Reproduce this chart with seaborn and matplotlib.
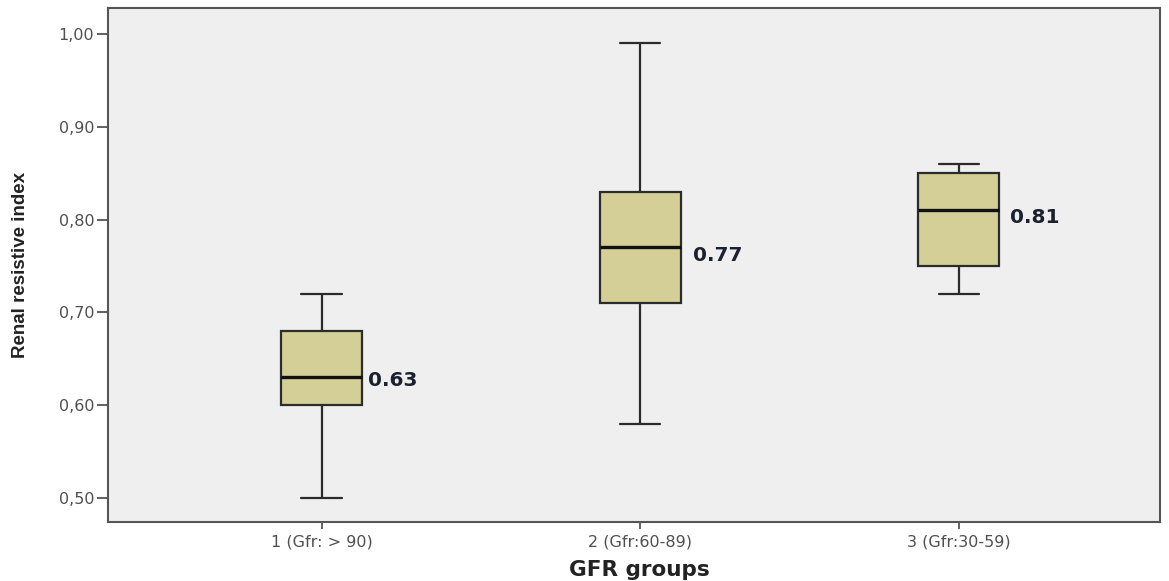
import numpy as np
import pandas as pd
import matplotlib
matplotlib.use("Agg")
import matplotlib.pyplot as plt
import seaborn as sns
from matplotlib.ticker import FuncFormatter

# Groups and box statistics (min, Q1, median, Q3, max)
groups = ["1 (Gfr: > 90)", "2 (Gfr:60-89)", "3 (Gfr:30-59)"]
g1_values = [0.50, 0.60, 0.63, 0.68, 0.72]
g2_values = [0.58, 0.71, 0.77, 0.83, 0.99]
g3_values = [0.72, 0.75, 0.81, 0.85, 0.86]
medians = [0.63, 0.77, 0.81]
median_labels = ["0.63", "0.77", "0.81"]
y_ticks = [0.50, 0.60, 0.70, 0.80, 0.90, 1.00]

df = pd.DataFrame({
    "group": np.repeat(groups, 5),
    "rri": g1_values + g2_values + g3_values,
})

sns.set_style("white")
plt.rcParams["font.family"] = ["DejaVu Sans"]

fig = plt.figure(figsize=(11.69, 5.81), dpi=100)
ax = fig.add_axes([0.0924, 0.1015, 0.8996, 0.8845])
ax.set_facecolor("#efefef")

sns.boxplot(data=df, x="group", y="rri", order=groups, ax=ax,
            whis=(0, 100), width=0.254, color="#d4cf97", saturation=1,
            linecolor="#2b2b2b", linewidth=1.6,
            medianprops=dict(color="#111111", linewidth=2.4),
            showfliers=False)

# median value labels, nudged as in the original (pixel offsets)
label_dx = [6, 12, 11]
label_dy = [-3, -8, -7]
for i, (m, lab) in enumerate(zip(medians, median_labels)):
    ax.annotate(lab, xy=(i + 0.127, m), xytext=(label_dx[i], label_dy[i]),
                textcoords="offset pixels", ha="left", va="center",
                fontsize=14.5, fontweight="bold", color="#1c2130")

ax.set_xlim(-0.67, 2.63)
ax.set_ylim(0.474, 1.028)
ax.set_yticks(y_ticks)
ax.yaxis.set_major_formatter(FuncFormatter(lambda v, p: f"{v:.2f}".replace(".", ",")))

for s in ax.spines.values():
    s.set_color("#555555")
    s.set_linewidth(1.5)

ax.tick_params(axis="y", length=8, width=1.3, color="#555555", pad=2,
               labelsize=11.5, labelcolor="#505050", left=True)
ax.tick_params(axis="x", length=5, width=1.3, color="#555555", pad=4,
               labelsize=11.5, labelcolor="#505050", bottom=True)
ax.set_xlabel("GFR groups", fontsize=15.5, fontweight="bold", color="#222222")
ax.set_ylabel("Renal resistive index", fontsize=13.5, fontweight="bold", color="#222222",
              family="Liberation Sans")
ax.xaxis.set_label_coords(0.5057, -0.074)
ax.yaxis.set_label_coords(-0.075, 0.5)

fig.savefig("out.png", dpi=100)
